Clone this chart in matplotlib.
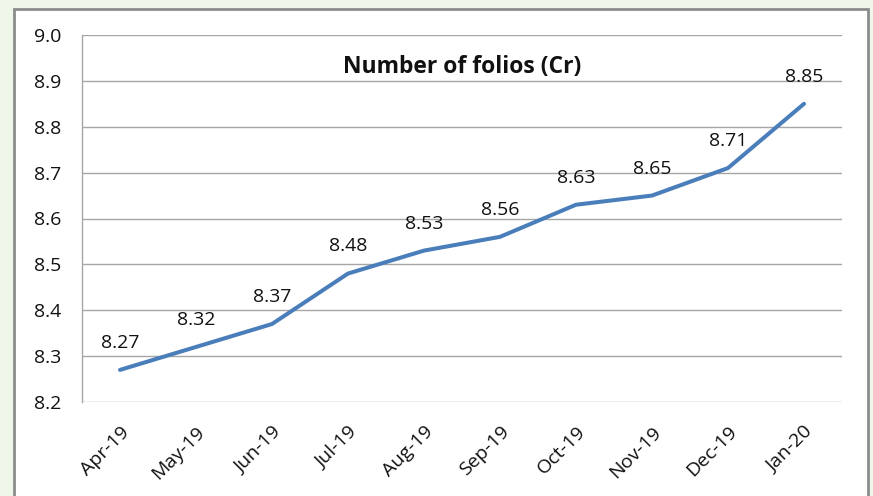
import matplotlib
matplotlib.use("Agg")
import matplotlib.pyplot as plt
from matplotlib.patches import Rectangle

months = ["Apr-19", "May-19", "Jun-19", "Jul-19", "Aug-19", "Sep-19",
          "Oct-19", "Nov-19", "Dec-19", "Jan-20"]
folios = [8.27, 8.32, 8.37, 8.48, 8.53, 8.56, 8.63, 8.65, 8.71, 8.85]
yticks = [8.2, 8.3, 8.4, 8.5, 8.6, 8.7, 8.8, 8.9, 9.0]
title = "Number of folios (Cr)"

plt.rcParams['font.family'] = ['Open Sans', 'DejaVu Sans']

W, H = 873, 496
fig = plt.figure(figsize=(W / 100, H / 100), dpi=100)
fig.patch.set_facecolor("#eef7e9")

# background axes holding the white chart panel with grey border
bg = fig.add_axes([0, 0, 1, 1], zorder=-10)
bg.set_xlim(0, W)
bg.set_ylim(H, 0)
bg.axis("off")
bg.add_patch(Rectangle((14, 9), 868 - 14, H + 20 - 9, facecolor="white",
                       edgecolor="#8c8c8c", linewidth=2))

ax = fig.add_axes([82 / W, 1 - 402 / H, (842 - 82) / W, (402 - 35) / H])
ax.set_facecolor("none")
x = list(range(len(months)))
ax.plot(x, folios, color="#4a7ebb", linewidth=2.9, solid_capstyle="round", zorder=3)

for xi, v in zip(x, folios):
    ax.annotate(f"{v:.2f}", (xi, v), xytext=(0, 13), textcoords="offset points",
                ha="center", va="bottom", fontsize=14, color="#111111")

ax.set_xlim(-0.5, len(months) - 0.5)
ax.set_ylim(8.2, 9.0)
ax.set_yticks(yticks)
ax.set_yticklabels([f"{t:.1f}" for t in yticks], fontsize=14, color="#111111")
ax.set_xticks(x)
ax.set_xticklabels(months, rotation=45, ha="right", rotation_mode="anchor",
                   fontsize=14, color="#111111")
ax.tick_params(axis="both", length=0)
ax.tick_params(axis="y", pad=15)
ax.tick_params(axis="x", pad=15)

ax.grid(axis="y", color="#a6a6a6", linewidth=1)
ax.set_axisbelow(True)
for s in ["top", "right", "bottom"]:
    ax.spines[s].set_visible(False)
ax.spines["left"].set_color("#a6a6a6")
ax.spines["left"].set_linewidth(1)

ax.text(0.5, 1 - (67 - 35) / (402 - 35), title, transform=ax.transAxes,
        ha="center", va="center", fontsize=16.5, fontweight="bold", color="#111111")

fig.savefig("out.png", dpi=100, facecolor=fig.get_facecolor())
